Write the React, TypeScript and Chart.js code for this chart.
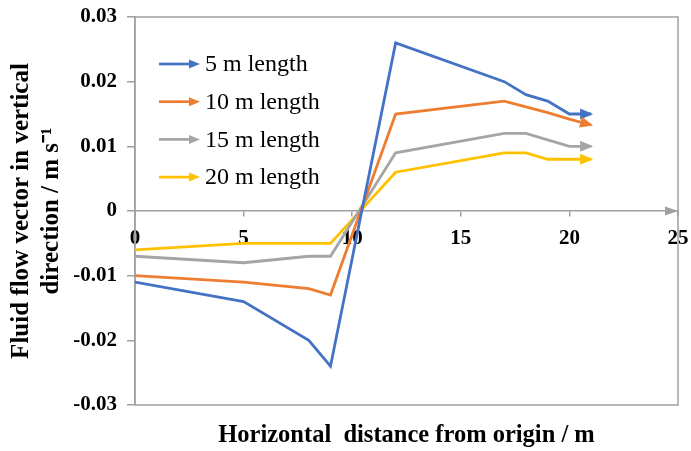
import React, { useEffect, useRef } from 'react';
import { Chart, registerables } from 'chart.js';

Chart.register(...registerables);

// ---- data ----
const xPositions = [0, 5, 8, 9, 12, 17, 18, 19, 20, 21];
const series5m = [-0.011, -0.014, -0.02, -0.024, 0.026, 0.02, 0.018, 0.017, 0.015, 0.015];
const series10m = [-0.01, -0.011, -0.012, -0.013, 0.015, 0.017, 0.0161, 0.0152, 0.0142, 0.0133];
const series15m = [-0.007, -0.008, -0.007, -0.007, 0.009, 0.012, 0.012, 0.011, 0.01, 0.01];
const series20m = [-0.006, -0.005, -0.005, -0.005, 0.006, 0.009, 0.009, 0.008, 0.008, 0.008];
const seriesLabels = ['5 m length', '10 m length', '15 m length', '20 m length'];
const seriesColors = ['#4472C4', '#ED7D31', '#A5A5A5', '#FFC000'];
const xMin = 0;
const xMax = 25;
const xStep = 5;
const yMin = -0.03;
const yMax = 0.03;
const yStep = 0.01;
const xAxisTitle = 'Horizontal  distance from origin / m';
const yAxisTitle = ['Fluid flow vector in vertical', 'direction / m s\u207B\u00B9'];

const FONT = "'Liberation Serif', 'Times New Roman', serif";
const AXIS_GRAY = '#A0A0A0';

function arrowHead(ctx: CanvasRenderingContext2D, x1: number, y1: number, x2: number, y2: number, len: number, half: number, color: string, extend = 0) {
  const ang = Math.atan2(y2 - y1, x2 - x1);
  ctx.save();
  ctx.translate(x2, y2);
  ctx.rotate(ang);
  ctx.beginPath();
  ctx.moveTo(extend, 0);
  ctx.lineTo(extend - len, -half);
  ctx.lineTo(extend - len, half);
  ctx.closePath();
  ctx.fillStyle = color;
  ctx.fill();
  ctx.restore();
}

const decorPlugin = {
  id: 'decor',
  beforeDatasetsDraw(chart: any) {
    const { ctx, chartArea } = chart;
    ctx.save();
    ctx.strokeStyle = AXIS_GRAY;
    ctx.lineWidth = 1.5;
    ctx.strokeRect(chartArea.left, chartArea.top, chartArea.right - chartArea.left, chartArea.bottom - chartArea.top);
    ctx.restore();
  },
  afterDatasetsDraw(chart: any) {
    const { ctx, chartArea } = chart;
    // arrowheads at line ends
    chart.data.datasets.forEach((ds: any, i: number) => {
      const meta = chart.getDatasetMeta(i);
      const pts = meta.data;
      if (pts.length < 2) return;
      const a = pts[pts.length - 2];
      const b = pts[pts.length - 1];
      arrowHead(ctx, a.x, a.y, b.x, b.y, 13, 5.5, ds.borderColor, 2);
    });
    // x axis arrow
    const yScale = chart.scales.y;
    const y0 = yScale.getPixelForValue(0);
    arrowHead(ctx, chartArea.left, y0, chartArea.right, y0, 13, 4.5, AXIS_GRAY);
    // legend
    ctx.save();
    const lx = chartArea.left + 24;
    const ly = chartArea.top + 47;
    const gap = 37.7;
    chart.data.datasets.forEach((ds: any, i: number) => {
      const y = ly + i * gap;
      ctx.strokeStyle = ds.borderColor;
      ctx.lineWidth = 2.7;
      ctx.beginPath();
      ctx.moveTo(lx, y);
      ctx.lineTo(lx + 32, y);
      ctx.stroke();
      arrowHead(ctx, lx, y, lx + 41, y, 11, 4.5, ds.borderColor);
      ctx.fillStyle = '#000';
      ctx.font = `24px ${FONT}`;
      ctx.textAlign = 'left';
      ctx.textBaseline = 'middle';
      ctx.fillText(ds.label, lx + 46, y + 1);
    });
    ctx.restore();
  },
};

function zeroPad(s: any) {
  s.paddingTop = 0;
  s.paddingBottom = 0;
  s.paddingLeft = 0;
  s.paddingRight = 0;
}

export default function App() {
  const canvasRef = useRef<HTMLCanvasElement | null>(null);

  useEffect(() => {
    if (!canvasRef.current) return;
    const allSeries = [series5m, series10m, series15m, series20m];
    const datasets = allSeries.map((s, i) => ({
      label: seriesLabels[i],
      data: xPositions.map((x, j) => ({ x, y: s[j] })),
      borderColor: seriesColors[i],
      backgroundColor: seriesColors[i],
      borderWidth: 2.8,
      pointRadius: 0,
      tension: 0,
      fill: false,
      showLine: true,
      borderJoinStyle: 'miter' as const,
    }));

    const tickFont = { family: FONT, size: 21, weight: 'bold' as const };

    const chart = new Chart(canvasRef.current, {
      type: 'line',
      data: { datasets },
      plugins: [decorPlugin],
      options: {
        responsive: false,
        animation: false,
        layout: { padding: { top: 17, right: 13, bottom: 0, left: 0 } },
        plugins: { legend: { display: false }, tooltip: { enabled: false } },
        scales: {
          x: {
            type: 'linear',
            position: { y: 0 } as any,
            min: xMin,
            max: xMax,
            ticks: { stepSize: xStep, font: tickFont, color: '#000', padding: 10, maxRotation: 0, autoSkip: false },
            grid: { drawOnChartArea: false, drawTicks: true, tickLength: 5, color: AXIS_GRAY, lineWidth: 1.5 },
            border: { color: AXIS_GRAY, width: 1.5 },
            afterFit: zeroPad,
          },
          xTitleAxis: {
            type: 'linear',
            position: 'bottom',
            min: xMin,
            max: xMax,
            ticks: { display: false },
            grid: { display: false },
            border: { display: false },
            title: {
              display: true,
              text: xAxisTitle,
              color: '#000',
              font: { family: FONT, size: 24.5, weight: 'bold', lineHeight: 1.2 },
              padding: { top: 0, bottom: 1 },
            },
            afterFit: (s: any) => {
              zeroPad(s);
              s.height = 46;
            },
          },
          y: {
            type: 'linear',
            position: 'left',
            min: yMin,
            max: yMax,
            ticks: {
              stepSize: yStep,
              font: tickFont,
              color: '#000',
              padding: 10,
              callback: (v: any) => (Math.abs(Number(v)) < 1e-9 ? '0' : Number(v).toFixed(2)),
            },
            grid: { drawOnChartArea: false, drawTicks: true, tickLength: 8, color: AXIS_GRAY, lineWidth: 1.5 },
            border: { color: AXIS_GRAY, width: 1.5 },
            title: {
              display: true,
              text: yAxisTitle,
              color: '#000',
              font: { family: FONT, size: 25, weight: 'bold', lineHeight: 1.2 },
              padding: { top: 7, bottom: 0 },
            },
            afterFit: (s: any) => {
              zeroPad(s);
              s.width = 135;
            },
          },
        },
      } as any,
    });
    return () => chart.destroy();
  }, []);

  return (
    <div style={{ position: 'fixed', left: 0, top: 0, width: 691, height: 451, background: '#fff' }}>
      <canvas ref={canvasRef} width={691} height={451} style={{ display: 'block' }} />
    </div>
  );
}
